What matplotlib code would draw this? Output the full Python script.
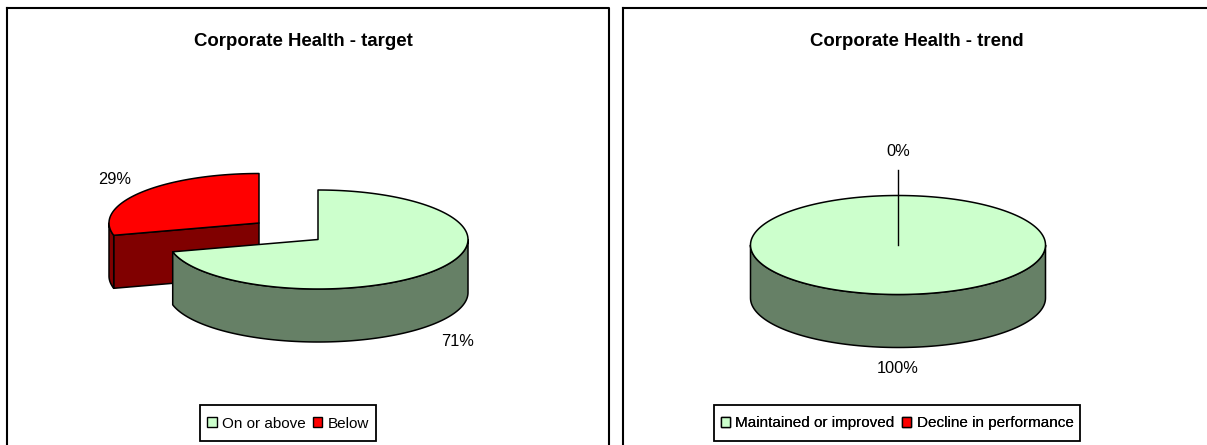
import matplotlib
matplotlib.use("Agg")
import matplotlib.pyplot as plt
from matplotlib.patches import Patch, Polygon, Rectangle
import numpy as np

plt.rcParams['font.family'] = ['Liberation Sans', 'DejaVu Sans']

# данные
titles = ["Corporate Health - target", "Corporate Health - trend"]
legend_names = [["On or above", "Below"], ["Maintained or improved", "Decline in performance"]]
target_values = [71, 29]
trend_values = [100, 0]

top_colors = ["#CCFFCC", "#FF0000"]
side_colors = ["#668066", "#800000"]

RY, DEPTH = 49.5, 53


# точка на эллипсе, угол по часовой от 12 часов
def rim(cx, cy, rx, deg):
    a = np.radians(deg)
    return np.column_stack((cx + rx * np.sin(a), cy - RY * np.cos(a)))


def poly(ax, pts, color):
    ax.add_patch(Polygon(pts, closed=True, facecolor=color, edgecolor="black",
                         linewidth=1.1, joinstyle="round"))


# один сектор псевдо-3D круга
def draw_slice(ax, cx, cy, rx, a0, a1, top, side):
    down = np.array([0, DEPTH])
    centre = np.array([[cx, cy]])
    # срез, обращенный к зрителю
    if 180 < a0 < 360:
        p = rim(cx, cy, rx, a0)
        poly(ax, np.vstack((centre, p, p + down, centre + down)), side)
    # внешняя стенка
    lo, hi = max(a0, 90), min(a1, 270)
    if hi > lo:
        arc = rim(cx, cy, rx, np.linspace(lo, hi, 120))
        poly(ax, np.vstack((arc, (arc + down)[::-1])), side)
    # верх
    arc = rim(cx, cy, rx, np.linspace(a0, a1, 240))
    if a1 - a0 >= 360:
        poly(ax, arc, top)
    else:
        poly(ax, np.vstack((centre, arc)), top)


def add_legend(ax, names, x0, x1, y0, y1):
    ax.add_patch(Rectangle((x0, y0), x1 - x0, y1 - y0, facecolor="white",
                           edgecolor="black", linewidth=1.3))
    handles = [Patch(facecolor=c, edgecolor="black", linewidth=1) for c in top_colors]
    leg = ax.legend(handles, names, loc="center", bbox_to_anchor=((x0 + x1) / 2, (y0 + y1) / 2 + 0.5),
                    bbox_transform=ax.transData, ncol=2, fontsize=11.0,
                    frameon=False, handlelength=0.62, handleheight=0.62,
                    handletextpad=0.33, columnspacing=0.5, borderpad=0, borderaxespad=0)
    ax.add_artist(leg)


fig = plt.figure(figsize=(12.07, 4.45), dpi=100)
ax = fig.add_axes([0, 0, 1, 1])
ax.set_xlim(0, 1207)
ax.set_ylim(445, 0)
ax.axis("off")

# рамки панелей
ax.plot([7, 7], [445, 7.5], color="black", lw=1.5)
ax.plot([7, 609, 609], [7.5, 7.5, 445], color="black", lw=1.5)
ax.plot([623, 623], [445, 7.5], color="black", lw=1.5)
ax.plot([623, 1207], [7.5, 7.5], color="black", lw=1.5)

ax.text(303, 41.5, titles[0], fontsize=13.4, fontweight="bold", ha="center", va="center")
ax.text(917, 41.5, titles[1], fontsize=13.4, fontweight="bold", ha="center", va="center")

# левый круг: сначала красный сектор, он сзади и смещен
split = 360 * target_values[0] / sum(target_values)
draw_slice(ax, 259, 223, 150, split, 360, top_colors[1], side_colors[1])
draw_slice(ax, 318, 239.5, 150, 0, split, top_colors[0], side_colors[0])
ax.text(115, 179.5, f"{target_values[1]}%", fontsize=11.8, ha="center", va="center")
ax.text(458, 341.5, f"{target_values[0]}%", fontsize=11.8, ha="center", va="center")
add_legend(ax, legend_names[0], 200, 376, 405, 441)

# правый круг
draw_slice(ax, 898, 245, 147.5, 0, 360, top_colors[0], side_colors[0])
ax.plot([898, 898], [170, 245], color="black", lw=1)
ax.text(898, 151.5, f"{trend_values[1]}%", fontsize=11.8, ha="center", va="center")
ax.text(898, 368.5, f"{trend_values[0]}%", fontsize=11.8, ha="center", va="center")
add_legend(ax, legend_names[1], 714, 1080, 405, 441)

fig.savefig("out.png", dpi=100)
